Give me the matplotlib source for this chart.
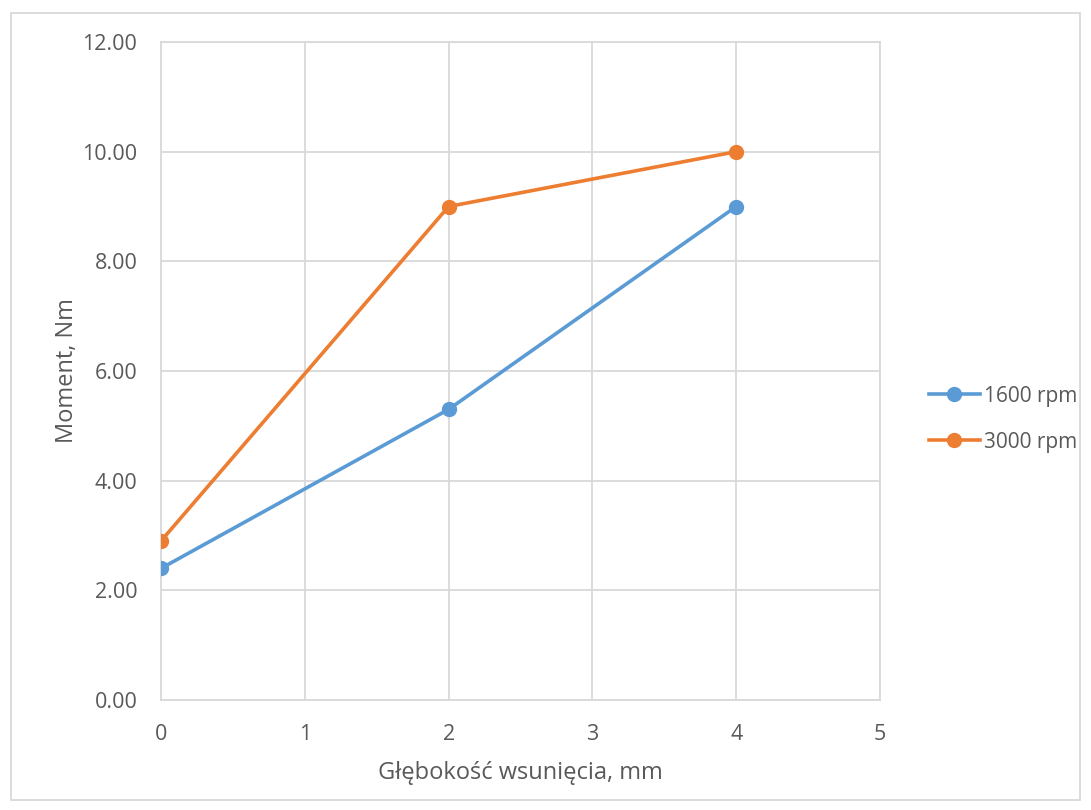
import matplotlib
matplotlib.use("Agg")
import matplotlib.pyplot as plt
from matplotlib.patches import Rectangle

x_vals = [0, 2, 4]
rpm1600 = [2.4, 5.3, 9.0]
rpm3000 = [2.9, 9.0, 10.0]
series_names = ["1600 rpm", "3000 rpm"]
x_ticks = [0, 1, 2, 3, 4, 5]
y_ticks = [0, 2, 4, 6, 8, 10, 12]

plt.rcParams['font.family'] = ['Open Sans', 'DejaVu Sans']
txt = '#595959'
grid = '#D9D9D9'

fig = plt.figure(figsize=(10.91, 8.10), dpi=100)
ax = fig.add_axes([161/1091, 1-700/810, (880-161)/1091, (700-42)/810])

ax.plot(x_vals, rpm1600, color='#5B9BD5', lw=2.6, marker='o', ms=10, label=series_names[0], zorder=3)
ax.plot(x_vals, rpm3000, color='#ED7D31', lw=2.6, marker='o', ms=10, label=series_names[1], zorder=3)

ax.set_xlim(0, 5)
ax.set_ylim(0, 12)
ax.set_xticks(x_ticks)
ax.set_yticks(y_ticks)
ax.set_yticklabels([f"{v:.2f}" for v in y_ticks])
ax.grid(True, color=grid, lw=1.3)
ax.set_axisbelow(True)
for s in ax.spines.values():
    s.set_color(grid)
    s.set_linewidth(1.3)
ax.tick_params(length=0, labelsize=15.5, colors=txt)
ax.tick_params(axis='x', pad=17)
ax.tick_params(axis='y', pad=17)
ax.set_xlabel("Głębokość wsunięcia, mm", fontsize=17, color=txt, labelpad=12)
ax.set_ylabel("Moment, Nm", fontsize=17, color=txt, labelpad=2)

leg = ax.legend(loc='center left', bbox_to_anchor=(1.042, 0.427), frameon=False,
                fontsize=15, labelcolor=txt, handlelength=2.45, handletextpad=0.2,
                labelspacing=1.2)

fig.patches.append(Rectangle((11/1091, 1-800/810), (1080-11)/1091, (800-13)/810,
                             transform=fig.transFigure, fill=False, edgecolor=grid, lw=1.3))

fig.savefig("out.png", dpi=100)
